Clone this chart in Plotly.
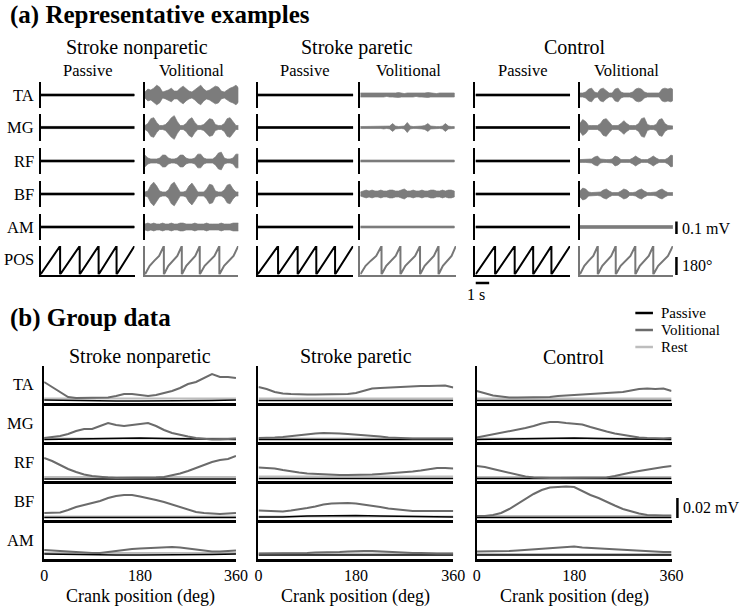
import plotly.graph_objects as go

W, H = 755, 609
FONT = "Liberation Serif, Times New Roman, serif"

# ================= (a) Representative examples : data =================
groups = ["Stroke nonparetic", "Stroke paretic", "Control"]
conditions = ["Passive", "Volitional"]
muscles = ["TA", "MG", "RF", "BF", "AM"]

# time grid of the EMG envelopes (s)
emg_time = [0.0, 0.21, 0.43, 0.64, 0.86, 1.07, 1.29, 1.5, 1.71, 1.93, 2.14, 2.36, 2.57,
            2.79, 3.0, 3.21, 3.43, 3.64, 3.86, 4.07, 4.29, 4.5, 4.71, 4.93, 5.14, 5.36,
            5.57, 5.79, 6.0, 6.21, 6.43, 6.64, 6.86]

# volitional EMG half-amplitude envelopes (uV)
vol_np_TA = [25, 50, 42, 58, 83, 67, 25, 33, 42, 58, 33, 33, 58, 75, 50, 33, 25, 42, 67, 83, 50, 33, 42, 58, 75, 67, 33, 25, 42, 58, 67, 83, 58]
vol_np_MG = [17, 33, 75, 83, 42, 17, 17, 25, 50, 83, 100, 50, 17, 17, 33, 67, 83, 42, 17, 17, 25, 50, 75, 67, 25, 17, 17, 33, 75, 83, 50, 17, 17]
vol_np_RF = [50, 25, 17, 17, 17, 25, 50, 50, 25, 17, 17, 25, 50, 50, 25, 17, 17, 25, 58, 58, 25, 17, 17, 17, 33, 67, 75, 25, 17, 17, 25, 58, 58]
vol_np_BF = [17, 25, 75, 100, 67, 25, 17, 17, 33, 83, 100, 58, 17, 17, 25, 67, 92, 58, 17, 17, 17, 42, 83, 75, 25, 17, 17, 33, 75, 83, 42, 17, 17]
vol_np_AM = [25, 33, 25, 33, 25, 25, 33, 25, 25, 33, 25, 25, 33, 33, 25, 25, 25, 33, 25, 25, 25, 33, 25, 25, 25, 25, 33, 25, 25, 25, 33, 33, 33]

vol_p_TA = [17, 17, 12, 17, 17, 12, 17, 17, 17, 12, 17, 17, 17, 21, 17, 12, 17, 17, 17, 12, 17, 17, 17, 21, 17, 17, 12, 17, 17, 17, 17, 17, 17]
vol_p_MG = [8, 8, 8, 12, 8, 8, 8, 8, 12, 8, 12, 33, 12, 8, 8, 12, 42, 12, 8, 8, 8, 12, 17, 33, 12, 8, 8, 8, 12, 33, 12, 8, 8]
vol_p_RF = [8, 8, 8, 10, 8, 8, 8, 10, 8, 8, 8, 8, 10, 8, 8, 8, 8, 10, 8, 8, 8, 8, 10, 8, 8, 8, 10, 8, 8, 8, 8, 8, 8]
vol_p_BF = [17, 25, 33, 25, 33, 25, 25, 33, 25, 25, 33, 33, 25, 25, 33, 42, 25, 25, 33, 25, 25, 33, 25, 25, 33, 33, 25, 25, 33, 25, 33, 33, 25]
vol_p_AM = [8, 8, 8, 8, 8, 8, 10, 8, 8, 8, 8, 8, 8, 8, 10, 8, 8, 8, 8, 8, 8, 8, 8, 10, 8, 8, 8, 8, 8, 8, 8, 8, 8]

vol_c_TA = [17, 17, 25, 50, 58, 25, 17, 50, 58, 33, 17, 17, 50, 58, 25, 17, 17, 17, 25, 50, 58, 50, 25, 17, 17, 17, 17, 17, 50, 58, 50, 58, 42]
vol_c_MG = [33, 67, 50, 17, 17, 17, 17, 33, 67, 75, 42, 17, 17, 17, 33, 58, 33, 17, 17, 17, 33, 75, 83, 25, 17, 17, 25, 67, 75, 33, 17, 12, 12]
vol_c_RF = [12, 12, 12, 12, 17, 33, 42, 17, 12, 12, 12, 17, 42, 33, 12, 12, 12, 12, 25, 42, 25, 12, 12, 12, 25, 42, 25, 12, 12, 12, 25, 50, 42]
vol_c_BF = [25, 50, 42, 17, 12, 12, 12, 17, 33, 42, 25, 12, 12, 12, 25, 42, 33, 12, 12, 17, 33, 42, 25, 12, 12, 12, 17, 33, 42, 25, 12, 12, 12]
vol_c_AM = [12, 12, 10, 12, 12, 12, 10, 12, 12, 12, 12, 10, 12, 12, 12, 12, 10, 12, 12, 12, 12, 10, 12, 12, 12, 12, 12, 10, 12, 12, 12, 12, 12]

# passive EMG half-amplitude (uV), one level per muscle
pas_np = [8, 9, 8, 8, 8]
pas_p = [8, 8, 9, 8, 8]
pas_c = [8, 8, 8, 8, 8]

# crank-cycle boundaries of the POS traces (s)
pos_np_pas = [0, 1.43, 2.86, 4.24, 5.55, 6.86]
pos_np_vol = [0, 1.38, 2.69, 4.0, 5.43, 6.81]
pos_p_pas = [0, 1.5, 2.93, 4.29, 5.66, 6.98]
pos_p_vol = [0, 1.55, 2.93, 4.36, 5.71, 6.98]
pos_c_pas = [0, 1.43, 2.86, 4.21, 5.54, 6.9]
pos_c_vol = [0, 1.31, 2.62, 4.05, 5.36, 6.79]
# crank angle within one cycle (phase fraction -> deg)
pas_ramp_phase = [0, 1.0]
pas_ramp_angle = [0, 360]
vol_ramp_phase = [0, 0.25, 0.5, 0.75, 1.0]
vol_ramp_angle = [0, 110, 175, 235, 360]

# ================= (b) Group data =================
crank_deg = [0, 15, 30, 45, 60, 75, 90, 105, 120, 135, 150, 165, 180, 195, 210, 225, 240,
             255, 270, 285, 300, 315, 330, 345, 360]
crank_deg_coarse = [0, 45, 90, 135, 180, 225, 270, 315, 360]

# volitional (uV)
gv_np_TA = [20, 15, 10, 5, 4, 4, 4, 4, 4.5, 6, 8, 8, 7, 6, 7, 9, 11, 14, 18, 20, 24, 28, 25, 25, 24]
gv_np_MG = [3, 4, 5, 7, 10, 12, 12, 15, 18, 16, 15, 16, 17, 18, 15, 11, 8, 6, 4.5, 3, 2, 1.5, 1.5, 2, 2.5]
gv_np_RF = [22, 19, 15, 11, 8, 5.5, 4, 3, 2.5, 2, 2, 2, 2, 2, 2.5, 3, 4.5, 6.5, 9, 12, 15, 18, 20, 21, 24]
gv_np_BF = [6, 6, 6.5, 9, 12, 14, 16, 18, 21, 23, 24, 24, 22.5, 21, 19, 17, 14.5, 12, 9, 7, 6, 5.5, 5, 5.5, 6]
gv_np_AM = [8, 7.5, 6.5, 6, 5.5, 5, 5, 5, 6, 7, 8.5, 9, 9.5, 10, 10.5, 11, 11, 10.5, 9.5, 8, 7, 6.5, 6.5, 7, 7.5]
gv_p_TA = [15, 13, 10, 8.5, 8, 7.5, 7.5, 7.5, 7.5, 7.5, 7.5, 8, 9, 11.5, 13.5, 14, 14.5, 15, 15, 15.5, 16, 16, 16.5, 16.5, 14.5]
gv_p_MG = [3, 3, 3.5, 4, 5, 5.5, 6.5, 7.5, 8, 8, 7.5, 7, 6.5, 6, 5, 4.5, 3.5, 3, 3, 2.5, 2.5, 2.5, 2.5, 2.5, 2.5]
gv_p_RF = [12.5, 12, 11.5, 10, 8.5, 7.5, 6.5, 6, 5.5, 5, 5, 5, 5, 5.5, 5.5, 6, 6.5, 7, 8, 8.5, 9.5, 11, 12, 12, 11.5]
gv_p_BF = [8.5, 8, 7.5, 7.5, 8.5, 9.5, 11, 12.5, 14.5, 15.5, 16, 16, 15.5, 14.5, 13.5, 12, 10.5, 9.5, 8.5, 8, 8, 8, 8, 8, 8]
gv_p_AM = [4.5, 4.5, 4.5, 4.5, 5, 5, 5, 5.5, 5.5, 6, 6, 6.5, 7, 7, 7, 6.5, 6.5, 6, 5.5, 5, 5, 4.5, 4.5, 4.5, 4.5]
gv_c_TA = [11, 9, 6.5, 5.5, 4.5, 4.5, 4.5, 4.5, 4.5, 5, 6, 6.5, 7, 7, 7.5, 8, 8.5, 9.5, 10, 11.5, 13, 13.5, 13, 13.5, 11]
gv_c_MG = [3.5, 5, 6.5, 8, 9.5, 11.5, 13, 15, 17.5, 19, 19, 18, 17.5, 16.5, 14, 11.5, 9.5, 7.5, 6, 4.5, 3.5, 3, 2.5, 2.5, 3]
gv_c_RF = [14, 13, 11, 9, 7, 5, 3.5, 2.5, 2, 2, 2, 2, 2, 2, 2, 2, 2.5, 4, 6, 7.5, 9, 10.5, 12, 13, 14]
gv_c_BF = [3, 3, 4, 6, 10, 15, 20, 25, 29, 31.5, 32, 32.5, 32, 28, 24, 21, 17, 13.5, 10, 7.5, 5.5, 4, 3.5, 3.5, 3.5]
gv_c_AM = [6.5, 6.5, 6.5, 7, 7, 7.5, 8, 8.5, 9.5, 10, 10.5, 11, 11.5, 10.5, 10, 9.5, 9, 8.5, 8, 7.5, 7, 6.5, 6, 6, 6]

# passive (uV)
gp_np_TA = [2, 1.5, 1, 1, 1, 1, 1, 1.5, 2]
gp_np_MG = [1.5, 2, 2.5, 3, 3, 2.5, 2, 1.5, 1.5]
gp_np_RF = [1, 1, 1, 1, 1, 1, 1, 1, 1]
gp_np_BF = [1.5, 1.5, 1.5, 1.5, 1.5, 1.5, 1.5, 1.5, 1.5]
gp_np_AM = [4, 3.5, 3, 3, 3, 3, 3, 3.5, 4]
gp_p_TA = [1.5, 1.5, 1.5, 1.5, 1.5, 1.5, 1.5, 1.5, 1.5]
gp_p_MG = [1.5, 1.5, 1.5, 2, 2, 1.5, 1.5, 1.5, 1.5]
gp_p_RF = [1.5, 1.5, 1.5, 1.5, 1.5, 1.5, 1.5, 1.5, 1.5]
gp_p_BF = [2, 2, 3, 3.5, 3.5, 3, 2.5, 2, 2]
gp_p_AM = [3, 3, 3, 3, 3, 3, 3, 3, 3]
gp_c_TA = [1.5, 1.5, 1.5, 1.5, 1.5, 1.5, 1.5, 1.5, 1.5]
gp_c_MG = [1.5, 2, 2.5, 3, 3, 2.5, 2, 1.5, 1.5]
gp_c_RF = [1.5, 1.5, 1.5, 1.5, 1.5, 1.5, 1.5, 1.5, 1.5]
gp_c_BF = [1.5, 1.5, 1.5, 2, 2, 2, 1.5, 1.5, 1.5]
gp_c_AM = [3, 3, 3, 3, 3, 3, 3, 3, 3]

# rest (uV)
gr_np_TA = [3.5, 3.5, 3.5, 3.5, 3.5, 3.5, 3.5, 3.5, 3.5]
gr_np_MG = [2.5, 2.5, 2.5, 2.5, 2.5, 2.5, 2.5, 2.5, 2.5]
gr_np_RF = [3, 3, 3, 3, 3, 3, 3, 3, 3]
gr_np_BF = [2.5, 2.5, 2.5, 2.5, 2.5, 2.5, 2.5, 2.5, 2.5]
gr_np_AM = [5, 5, 5, 5, 5, 5, 5, 5, 5]
gr_p_TA = [3.5, 3.5, 3.5, 3.5, 3.5, 3.5, 3.5, 3.5, 3.5]
gr_p_MG = [2.5, 2.5, 2.5, 2.5, 2.5, 2.5, 2.5, 2.5, 2.5]
gr_p_RF = [3.5, 3.5, 3.5, 3.5, 3.5, 3.5, 3.5, 3.5, 3.5]
gr_p_BF = [2.5, 2.5, 2.5, 2.5, 2.5, 2.5, 2.5, 2.5, 2.5]
gr_p_AM = [4.5, 4.5, 4.5, 4.5, 4.5, 4.5, 4.5, 4.5, 4.5]
gr_c_TA = [3.5, 3.5, 3.5, 3.5, 3.5, 3.5, 3.5, 3.5, 3.5]
gr_c_MG = [2.5, 2.5, 2.5, 2.5, 2.5, 2.5, 2.5, 2.5, 2.5]
gr_c_RF = [3, 3, 3, 3, 3, 3, 3, 3, 3]
gr_c_BF = [3, 3, 3, 3, 3, 3, 3, 3, 3]
gr_c_AM = [4, 4, 4, 4, 4, 4, 4, 4, 4]

legend_labels = ["Passive", "Volitional", "Rest"]

# ================= styling / layout constants =================
C_PAS = "#000000"
C_VOL = "#6b6b6b"
C_REST = "#bdbdbd"
C_EMG = "#7c7c7c"
PX_PER_S = 14.0           # horizontal scale of panel (a)
EMG_HALF = 112.5          # uV shown above/below baseline in each (a) row

a_panel_x0 = [37.3, 144, 259, 364, 481.7, 588.3]
a_row_center = [95, 127.5, 161, 194, 227]
a_row_half = 13.3
a_pos_top, a_pos_bot = 246, 274.5

b_panel_x = [(41, 237), (260, 459), (483, 682)]
b_rows = [(366, 403), (405, 442), (444, 481), (483, 520), (522, 559)]

layout = dict(width=W, height=H, margin=dict(l=0, r=0, t=0, b=0),
              paper_bgcolor="white", plot_bgcolor="rgba(0,0,0,0)",
              showlegend=False, font=dict(family=FONT, color="black"))
traces = []
shapes = []
annotations = []
_n = [0]


def new_axes(x0, x1, ytop, ybot, xrange, yrange, xline=None, yline=None, xticks=None):
    _n[0] += 1
    s = "" if _n[0] == 1 else str(_n[0])
    xa = dict(domain=[x0 / W, x1 / W], range=xrange, anchor="y" + s, showgrid=False,
              zeroline=False, showticklabels=False, ticks="", showline=False, fixedrange=True)
    ya = dict(domain=[1 - ybot / H, 1 - ytop / H], range=yrange, anchor="x" + s,
              showgrid=False, zeroline=False, showticklabels=False, ticks="", showline=False,
              fixedrange=True)
    if xline:
        xa.update(showline=True, linecolor=xline[0], linewidth=xline[1])
    if yline:
        ya.update(showline=True, linecolor=yline[0], linewidth=yline[1])
    if xticks:
        xa.update(showticklabels=True, tickvals=xticks, ticktext=[str(v) for v in xticks],
                  tickfont=dict(family=FONT, size=16, color="black"))
    layout["xaxis" + s] = xa
    layout["yaxis" + s] = ya
    return "x" + s, "y" + s


def text(x, y, s, size, xanchor="center", height=None):
    a = dict(x=x / W, y=1 - y / H, xref="paper", yref="paper", text=s,
             showarrow=False, xanchor=xanchor, yanchor="middle",
             font=dict(family=FONT, size=size, color="black"))
    if height:
        a["height"] = height
    annotations.append(a)


# ---------------- panel (a) ----------------
vol_env = [[vol_np_TA, vol_np_MG, vol_np_RF, vol_np_BF, vol_np_AM],
           [vol_p_TA, vol_p_MG, vol_p_RF, vol_p_BF, vol_p_AM],
           [vol_c_TA, vol_c_MG, vol_c_RF, vol_c_BF, vol_c_AM]]
pas_lvl = [pas_np, pas_p, pas_c]
pos_cyc = [[pos_np_pas, pos_np_vol], [pos_p_pas, pos_p_vol], [pos_c_pas, pos_c_vol]]

pos_axes_ref = {}
for g in range(3):
    for c in range(2):
        col = g * 2 + c
        cycles = pos_cyc[g][c]
        t_end = cycles[-1]
        x0 = a_panel_x0[col]
        x1 = x0 + t_end * PX_PER_S
        for m in range(5):
            yc = a_row_center[m]
            xa, ya = new_axes(x0, x1, yc - a_row_half, yc + a_row_half, [0, t_end],
                              [-EMG_HALF, EMG_HALF], yline=("black", 2.2))
            if c == 0:
                t = [0, t_end]
                amp = [pas_lvl[g][m], pas_lvl[g][m]]
                col_ = C_PAS
            else:
                t = emg_time
                amp = vol_env[g][m]
                col_ = C_EMG
            xs = list(t) + list(t)[::-1]
            ys = list(amp) + [-a for a in amp][::-1]
            traces.append(go.Scatter(x=xs, y=ys, xaxis=xa, yaxis=ya, mode="lines",
                                     fill="toself", fillcolor=col_,
                                     line=dict(color=col_, width=0.7), hoverinfo="skip"))
        # POS row
        pc = C_PAS if c == 0 else "#777777"
        xa, ya = new_axes(x0, x1, a_pos_top, a_pos_bot, [0, t_end], [0, 360],
                          xline=(pc, 2.2), yline=(pc, 2.2))
        pos_axes_ref[(g, c)] = (xa, ya)
        ph = pas_ramp_phase if c == 0 else vol_ramp_phase
        an = pas_ramp_angle if c == 0 else vol_ramp_angle
        px, py = [], []
        for i in range(len(cycles) - 1):
            d = cycles[i + 1] - cycles[i]
            for f, a in zip(ph, an):
                px.append(cycles[i] + f * d)
                py.append(a)
        traces.append(go.Scatter(x=px, y=py, xaxis=xa, yaxis=ya, mode="lines",
                                 line=dict(color=pc, width=2), hoverinfo="skip"))

# labels (a)
annotations.append(dict(x=4 / W, y=1 - 15 / H, xref="paper", yref="paper",
                        text="<b>(a) Representative examples</b>", showarrow=False,
                        xanchor="left", yanchor="middle",
                        font=dict(family=FONT, size=25, color="black")))
a_group_cx = [136, 361, 583]
for g in range(3):
    text(a_group_cx[g], 47, groups[g], 20)
    for c in range(2):
        col = g * 2 + c
        t_end = pos_cyc[g][c][-1]
        cx = a_panel_x0[col] + t_end * PX_PER_S / 2
        text(cx, 71, conditions[c], 16.5)
for m in range(5):
    text(33, a_row_center[m], muscles[m], 16.5, xanchor="right")
text(33, (a_pos_top + a_pos_bot) / 2 - 1, "POS", 16.5, xanchor="right")

# scale bars (a)
shapes.append(dict(type="line", xref="paper", yref="paper", x0=687 / W, x1=687 / W,
                   y0=1 - 221.5 / H, y1=1 - 234 / H, line=dict(color="black", width=2.5)))
text(691, 228, "0.1 mV", 16, xanchor="left")
shapes.append(dict(type="line", xref="paper", yref="paper", x0=687 / W, x1=687 / W,
                   y0=1 - 257 / H, y1=1 - 275 / H, line=dict(color="black", width=2.5)))
text(691, 265, "180°", 16, xanchor="left")
xa_c, _ = pos_axes_ref[(2, 0)]
shapes.append(dict(type="line", xref=xa_c, yref="paper", x0=0, x1=1,
                   y0=1 - 283 / H, y1=1 - 283 / H, line=dict(color="black", width=2.5)))
text(482, 294, "1 s", 16)

# ---------------- panel (b) ----------------
gv = [[gv_np_TA, gv_np_MG, gv_np_RF, gv_np_BF, gv_np_AM],
      [gv_p_TA, gv_p_MG, gv_p_RF, gv_p_BF, gv_p_AM],
      [gv_c_TA, gv_c_MG, gv_c_RF, gv_c_BF, gv_c_AM]]
gp = [[gp_np_TA, gp_np_MG, gp_np_RF, gp_np_BF, gp_np_AM],
      [gp_p_TA, gp_p_MG, gp_p_RF, gp_p_BF, gp_p_AM],
      [gp_c_TA, gp_c_MG, gp_c_RF, gp_c_BF, gp_c_AM]]
gr = [[gr_np_TA, gr_np_MG, gr_np_RF, gr_np_BF, gr_np_AM],
      [gr_p_TA, gr_p_MG, gr_p_RF, gr_p_BF, gr_p_AM],
      [gr_c_TA, gr_c_MG, gr_c_RF, gr_c_BF, gr_c_AM]]

bf_ctrl_axes = None
for g in range(3):
    x0, x1 = b_panel_x[g]
    for m in range(5):
        top, bot = b_rows[m]
        xa, ya = new_axes(x0, x1, top, bot, [0, 360], [-1, 36],
                          xline=("black", 2.6), yline=("black", 2.2),
                          xticks=[0, 180, 360] if m == 4 else None)
        if g == 2 and m == 3:
            bf_ctrl_axes = (xa, ya)
        traces.append(go.Scatter(x=crank_deg_coarse, y=gr[g][m], xaxis=xa, yaxis=ya,
                                 mode="lines", line=dict(color=C_REST, width=2),
                                 hoverinfo="skip"))
        traces.append(go.Scatter(x=crank_deg_coarse, y=gp[g][m], xaxis=xa, yaxis=ya,
                                 mode="lines", line=dict(color=C_PAS, width=1.5),
                                 hoverinfo="skip"))
        traces.append(go.Scatter(x=crank_deg, y=gv[g][m], xaxis=xa, yaxis=ya,
                                 mode="lines", line=dict(color=C_VOL, width=2),
                                 hoverinfo="skip"))
    text((x0 + x1) / 2, 357, groups[g], 20)
    text((x0 + x1) / 2, 596, "Crank position (deg)", 18)

for m in range(5):
    top, bot = b_rows[m]
    text(33, (top + bot) / 2, muscles[m], 16.5, xanchor="right")

annotations.append(dict(x=4 / W, y=1 - 318 / H, xref="paper", yref="paper",
                        text="<b>(b) Group data</b>", showarrow=False,
                        xanchor="left", yanchor="middle",
                        font=dict(family=FONT, size=25, color="black")))

# legend
leg_y = [313, 330, 347]
leg_c = [C_PAS, C_VOL, C_REST]
for i in range(3):
    shapes.append(dict(type="line", xref="paper", yref="paper", x0=645 / W, x1=663 / W,
                       y0=1 - leg_y[i] / H, y1=1 - leg_y[i] / H,
                       line=dict(color=leg_c[i], width=2.5)))
    text(669, leg_y[i], legend_labels[i], 15, xanchor="left", height=16)

# 0.02 mV scale bar tied to control BF axis
shapes.append(dict(type="line", xref="paper", yref=bf_ctrl_axes[1], x0=688 / W, x1=688 / W,
                   y0=1, y1=21, line=dict(color="black", width=2.5)))
text(692, 507, "0.02 mV", 16, xanchor="left")

layout["shapes"] = shapes
layout["annotations"] = annotations
fig = go.Figure(data=traces, layout=layout)
fig.write_html("out.html", config={"displayModeBar": False},
               post_script="document.body.style.margin='0px';")
